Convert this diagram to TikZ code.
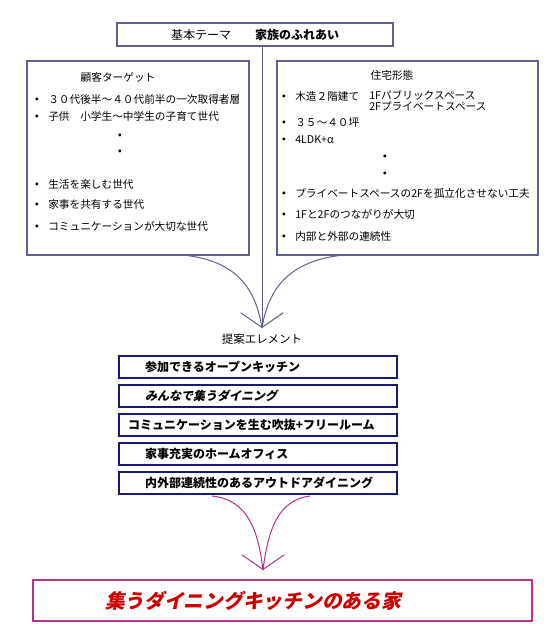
\documentclass[tikz,border=0pt]{standalone}
\usepackage{fontspec}
\setmainfont{Noto Sans CJK JP}
\newfontfamily\slantjp{Noto Sans CJK JP}[FakeSlant=0.22, BoldFeatures={FakeSlant=0.22}]
\usetikzlibrary{arrows.meta, positioning, calc}
\newdimen\pxu \pxu=0.75pt
\definecolor{framegray}{RGB}{96,96,140}
\definecolor{navyline}{RGB}{24,24,122}
\definecolor{pinkline}{RGB}{188,48,136}
\definecolor{titlered}{RGB}{204,0,0}
\tikzstyle{frame} = [draw=framegray, line width=0.8pt, inner sep=0pt]
\tikzstyle{grayarrow} = [framegray, line width=0.75pt]
\tikzstyle{pinkarrow} = [pinkline, line width=0.75pt]

\begin{document}
\begin{tikzpicture}[x=0.75pt, y=-0.75pt, every node/.style={font=\fontsize{8}{9}\selectfont, inner sep=0pt}]
\useasboundingbox[fill=white] (0,0) rectangle (553,631);
\tikzset{
  barb/.style={-{Straight Barb[length=11pt, width=32pt]}},
  elem/.style={draw=navyline, line width=1.1pt, minimum height=22\pxu, inner xsep=26\pxu,
    text width=226\pxu, align=left, font=\fontsize{9}{10}\selectfont\bfseries},
  bullet/.style={anchor=mid, font=\fontsize{8}{9}\selectfont\bfseries},
  item/.style={anchor=mid west}
}

% Theme
\node (theme) at (255,34.5) [frame, minimum width=276\pxu, minimum height=23\pxu, font=\fontsize{9}{10}\selectfont] {基本テーマ　　\textbf{家族のふれあい}};

% Customer target
\node (target) at (138,158) [frame, minimum width=222\pxu, minimum height=194\pxu] {};
\node (tgttitle) at (118,78) [anchor=mid] {顧客ターゲット};
\foreach \y/\txt [count=\i] in {100/３０代後半～４０代前半の一次取得者層, 117/子供　小学生～中学生の子育て世代,
    185/生活を楽しむ世代, 205/家事を共有する世代, 227/コミュニケーションが大切な世代} {
  \node (tb\i) at (37,\y) [bullet] {・};
  \node (ti\i) at (48,\y) [item] {\txt};
}
\node (tdot1) at (120,136) [bullet] {・};
\node (tdot2) at (120,152) [bullet] {・};

% House type
\node (house) at (407.5,158) [frame, minimum width=261\pxu, minimum height=194\pxu] {};
\node (hstitle) at (392,76) [anchor=mid] {住宅形態};
\foreach \y/\txt [count=\i] in {97/木造２階建て, 123/３５～４０坪, 140/4LDK+α,
    194/プライベートスペースの2Fを孤立化させない工夫, 215/1Fと2Fのつながりが大切, 237/内部と外部の連続性} {
  \node (hb\i) at (284,\y) [bullet] {・};
  \node (hi\i) at (295,\y) [item] {\txt};
}
\node (hsub1) at (369,96) [item] {1Fパブリックスペース};
\node (hsub2) at (369,107) [item] {2Fプライベートスペース};
\node (hdot1) at (385,157) [bullet] {・};
\node (hdot2) at (385,174) [bullet] {・};

% Merge arrow
\coordinate (tip) at (262,328);
\draw [grayarrow, barb] (theme.south -| tip) -- (tip);
\draw [grayarrow] ($(target.south west)!0.72!(target.south east)$) .. controls (238,262) and (256,290) .. (tip);
\draw [grayarrow] ($(house.south west)!0.24!(house.south east)$) .. controls (288,262) and (268,290) .. (tip);

% Proposal elements
\node (proposal) at (262,340) [anchor=mid, font=\fontsize{8.6}{10}\selectfont] {提案エレメント};
\node (e1) at (258,367) [elem] {参加できるオープンキッチン};
\node (e2) [elem, below=5.5\pxu of e1] {{\slantjp\bfseries みんなで集うダイニング}};
\node (e3) [elem, below=5.5\pxu of e2, inner xsep=9\pxu, text width=260\pxu] {コミュニケーションを生む吹抜+フリールーム};
\node (e4) [elem, below=5.5\pxu of e3] {家事充実のホームオフィス};
\node (e5) [elem, below=5.5\pxu of e4] {内外部連続性のあるアウトドアダイニング};

% Result arrow
\coordinate (pl) at (212,496);
\coordinate (pr) at (310,496);
\coordinate (ptip) at (263,570);
\draw [pinkarrow] (pl) .. controls (248,500) and (258,530) .. (ptip);
\draw [pinkarrow] (pr) .. controls (278,500) and (268,530) .. (ptip);
\draw [pinkarrow, barb] (ptip) ++(0,-2) -- (ptip);

% Result
\node (result) at (282.5,600.5) [draw=pinkline, line width=0.9pt, minimum height=41\pxu, inner xsep=72\pxu,
  text width=355\pxu, align=left, text=titlered, font=\fontsize{14.8}{16}\selectfont\slantjp\bfseries] {集うダイニングキッチンのある家};
\end{tikzpicture}
\end{document}
